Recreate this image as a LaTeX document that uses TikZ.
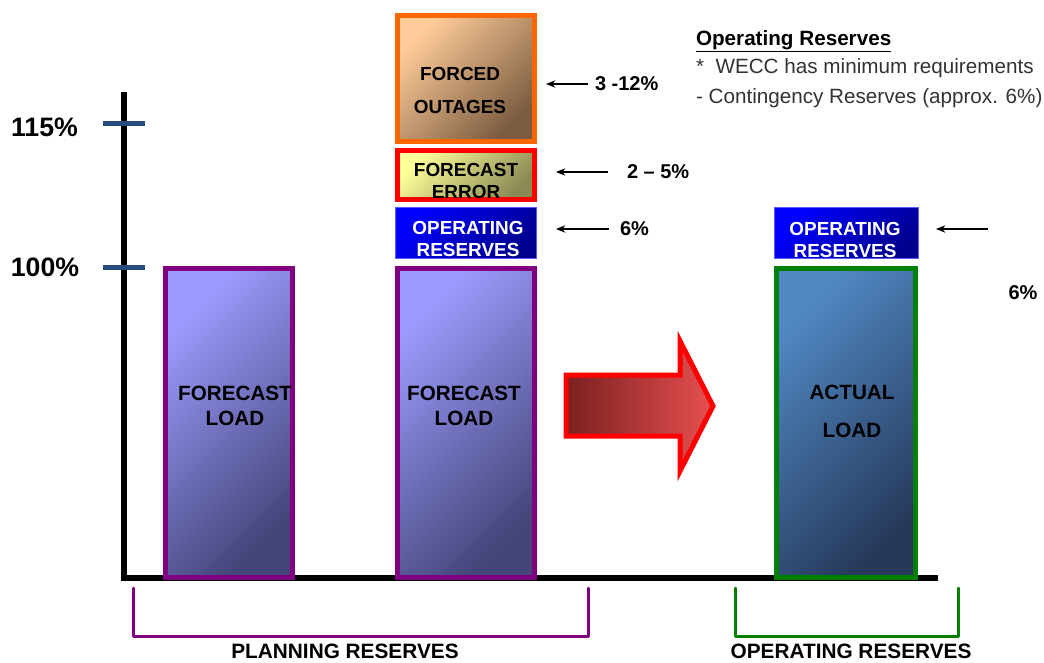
\documentclass[tikz,border=0pt]{standalone}
\usepackage{fontspec}
\setmainfont{Liberation Sans}
\usetikzlibrary{arrows.meta}
\definecolor{barpurple}{HTML}{800080}
\definecolor{loadtop}{HTML}{9C9CFF}
\definecolor{loadbot}{HTML}{45457A}
\definecolor{acttop}{HTML}{5088C4}
\definecolor{actbot}{HTML}{26395A}
\definecolor{actgreen}{HTML}{008000}
\definecolor{fotop}{HTML}{FFCC99}
\definecolor{fobot}{HTML}{7A5C40}
\definecolor{foorange}{HTML}{FF6600}
\definecolor{fetop}{HTML}{FFFF99}
\definecolor{femid}{HTML}{E6E68A}
\definecolor{febot}{HTML}{8A8A55}
\definecolor{ortop}{HTML}{0000FF}
\definecolor{orbot}{HTML}{000090}
\definecolor{orline}{HTML}{5A5AFF}
\definecolor{tickblue}{HTML}{254C7A}
\definecolor{arrdark}{HTML}{7A2020}
\definecolor{arrmid}{HTML}{E04848}
\definecolor{arrlight}{HTML}{E85050}
\definecolor{notegray}{HTML}{333333}
\begin{document}
\begin{tikzpicture}[x=0.75pt,y=-0.75pt,
  every node/.style={inner sep=0pt, outer sep=0pt},
  loadbar/.style={draw=barpurple, line width=3.75pt, top color=loadtop, bottom color=loadbot, shading angle=45, minimum height=232.1pt},
  actbar/.style={draw=actgreen, line width=3.75pt, top color=acttop, bottom color=actbot, shading angle=45, minimum height=232.1pt, minimum width=104.25pt},
  orbox/.style={draw=orline, line width=0.75pt, top color=ortop, middle color=ortop, bottom color=orbot, shading angle=45, minimum height=38.25pt},
  fobox/.style={draw=foorange, line width=3.75pt, top color=fotop, bottom color=fobot, shading angle=45, minimum width=102.75pt, minimum height=94.5pt},
  febox/.style={draw=red, line width=3.75pt, top color=fetop, middle color=femid, bottom color=febot, shading angle=45, minimum width=102.75pt, minimum height=36.75pt},
  axlbl/.style={font=\bfseries\fontsize{20}{24}\selectfont},
  pct/.style={font=\bfseries\fontsize{15}{18}\selectfont},
  boxtxt/.style={font=\bfseries\fontsize{14.2}{16.5}\selectfont, align=center},
  loadtxt/.style={font=\bfseries\fontsize{15.5}{18.75}\selectfont, align=center},
  bottomlbl/.style={font=\bfseries\fontsize{15.6}{18}\selectfont},
  pctarrow/.style={draw=black, line width=1pt, -{Stealth[length=7pt,width=5.5pt]}},
  axisline/.style={line width=4.5pt, line cap=rect},
  tickline/.style={draw=tickblue, line width=3.75pt},
  bracketp/.style={draw=barpurple, line width=2.25pt, line join=round, line cap=round},
  bracketg/.style={draw=actgreen, line width=2.25pt, line join=round, line cap=round}
]
\useasboundingbox (0,0) rectangle (1044,662);

% axes
\coordinate (atop) at (124,95);
\coordinate (aorig) at (124,578);
\coordinate (aend) at (935,578);
\draw[axisline] (atop) -- (aorig) -- (aend);
\coordinate (t1a) at (103,123); \coordinate (t1b) at (145,123);
\coordinate (t2a) at (103,267.5); \coordinate (t2b) at (145,267.5);
\draw[tickline] (t1a) -- (t1b);
\draw[tickline] (t2a) -- (t2b);
\node[axlbl] (l115) at (44.5,127) {115\%};
\node[axlbl] (l100) at (45,267.5) {100\%};

% bars
\node[loadbar, minimum width=95.25pt] (fl1) at (229,423) {};
\node[loadtxt] (fl1t) at (235,405.8) {FORECAST\\LOAD};
\node[loadbar, minimum width=102.75pt] (fl2) at (466,423) {};
\node[loadtxt] (fl2t) at (464,405.5) {FORECAST\\LOAD};
\node[actbar] (al) at (846,423) {};
\node[loadtxt, font=\bfseries\fontsize{15.5}{28.5}\selectfont] (alt) at (852,411.7) {ACTUAL\\LOAD};

% stacked boxes
\node[orbox, minimum width=105.75pt] (or1) at (466,233) {};
\node[boxtxt, text=white] (or1t) at (468,238.7) {OPERATING\\RESERVES};
\node[febox] (fe) at (466,175) {};
\node[boxtxt] (fet) at (466,181.2) {FORECAST\\ERROR};
\node[fobox] (fo) at (466,78.5) {};
\node[boxtxt, font=\bfseries\fontsize{14.2}{24.75}\selectfont] (fot) at (460,90) {FORCED\\OUTAGES};
\node[orbox, minimum width=108pt] (or2) at (846.5,233) {};
\node[boxtxt, text=white] (or2t) at (845,239.5) {OPERATING\\RESERVES};

% percentage labels and arrows
\node[pct, anchor=west] (p1) at (595,84) {3 -12\%};
\node[pct, anchor=west] (p2) at (627,172) {2 -- 5\%};
\node[pct, anchor=west] (p3) at (620,229) {6\%};
\node[pct] (p4) at (1023,293) {6\%};
\coordinate (rtail) at (988,229);
\draw[pctarrow, shorten <=5.25pt, shorten >=8.6pt] (p1.west) -- (p1.west -| fo.east);
\draw[pctarrow, shorten <=14.25pt, shorten >=16.1pt] (p2.west) -- (p2.west -| fe.east);
\draw[pctarrow, shorten <=8.25pt, shorten >=14.6pt] (p3.west) -- (p3.west -| or1.east);
\draw[pctarrow, shorten >=13.1pt] (rtail) -- (rtail -| or2.east);

% big red arrow
\path[draw=red, line width=3.75pt, line join=miter, left color=arrdark, middle color=arrmid, right color=arrlight]
  (566,375) -- (680,375) -- (680,341) -- (713,406) -- (680,471) -- (680,436) -- (566,436) -- cycle;

% note
\node[anchor=base west, font=\bfseries\fontsize{15.5}{18}\selectfont] (nt) at (696,45) {\underline{Operating Reserves}};
\node[anchor=base west, text=notegray, font=\fontsize{15.5}{18}\selectfont] (n1) at (696,73.3) {*\ \ WECC has minimum requirements};
\node[anchor=base west, text=notegray, font=\fontsize{15.5}{18}\selectfont] (n2) at (696,103) {- Contingency Reserves (approx. 6\%)};

% brackets
\coordinate (pb1) at (133,588); \coordinate (pb2) at (133,636);
\coordinate (pb3) at (588,636); \coordinate (pb4) at (588,588);
\draw[bracketp] (pb1) -- (pb2) -- (pb3) -- (pb4);
\coordinate (gb1) at (735,588); \coordinate (gb2) at (735,636);
\coordinate (gb3) at (958,636); \coordinate (gb4) at (958,588);
\draw[bracketg] (gb1) -- (gb2) -- (gb3) -- (gb4);
\node[bottomlbl] (plan) at (345,651.5) {PLANNING RESERVES};
\node[bottomlbl] (oper) at (851,651.5) {OPERATING RESERVES};
\end{tikzpicture}
\end{document}
